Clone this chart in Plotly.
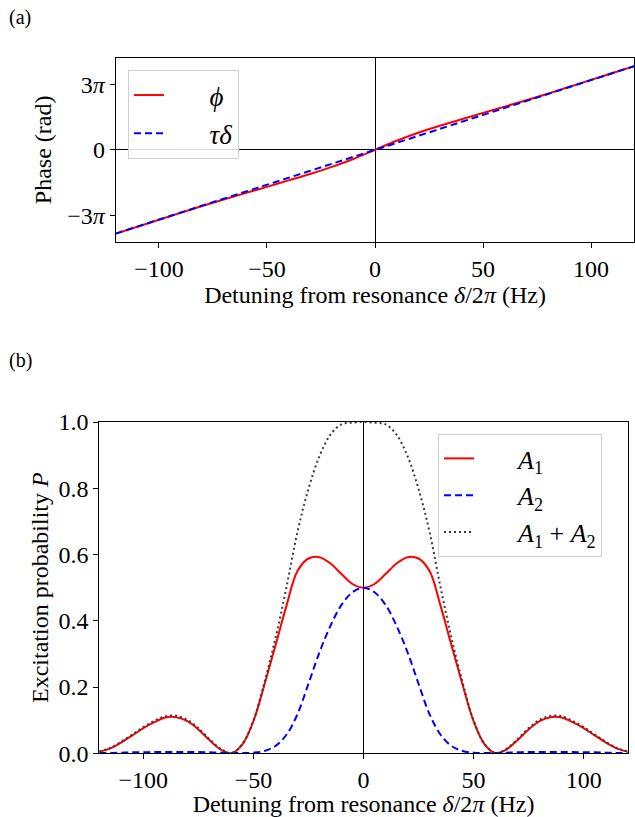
import plotly.graph_objects as go

# ---------------- data ----------------
# (a) phase vs detuning
phase_detuning = [-120, -110, -100, -90, -80, -70, -60, -50, -40, -30, -20, -10, 0,
                  10, 20, 30, 40, 50, 60, 70, 80, 90, 100, 110, 120]
phi = [-12.06, -11.07, -10.07, -9.08, -8.09, -7.14, -6.23, -5.33, -4.40, -3.47, -2.46, -1.31, 0.0,
       1.31, 2.46, 3.47, 4.40, 5.33, 6.23, 7.14, 8.09, 9.08, 10.07, 11.07, 12.06]
tau_delta = [-12.06, -11.06, -10.05, -9.05, -8.04, -7.04, -6.03, -5.03, -4.02, -3.02, -2.01, -1.01, 0.0,
             1.01, 2.01, 3.02, 4.02, 5.03, 6.03, 7.04, 8.04, 9.05, 10.05, 11.06, 12.06]
phase_tickvals = [-9.42478, 0.0, 9.42478]
phase_ticktext = ["\u22123<i>\u03c0</i>", "0", "3<i>\u03c0</i>"]

# (b) excitation probability vs detuning
prob_detuning = [-120, -115, -110, -105, -100, -95, -90, -85, -80, -75, -70, -65, -60,
                 -55, -50, -45, -40, -35, -30, -25, -20, -15, -10, -5, 0,
                 5, 10, 15, 20, 25, 30, 35, 40, 45, 50, 55, 60,
                 65, 70, 75, 80, 85, 90, 95, 100, 105, 110, 115, 120]
A1 = [0.005, 0.015, 0.033, 0.054, 0.076, 0.094, 0.108, 0.109, 0.097, 0.072, 0.040, 0.012, 0.000,
      0.027, 0.097, 0.207, 0.325, 0.445, 0.550, 0.588, 0.592, 0.573, 0.541, 0.511, 0.500,
      0.511, 0.541, 0.573, 0.592, 0.588, 0.550, 0.445, 0.325, 0.207, 0.097, 0.027, 0.000,
      0.012, 0.040, 0.072, 0.097, 0.109, 0.108, 0.094, 0.076, 0.054, 0.033, 0.015, 0.005]
A2 = [0.001, 0.001, 0.002, 0.003, 0.003, 0.004, 0.004, 0.004, 0.004, 0.004, 0.003, 0.002, 0.001,
      0.001, 0.002, 0.007, 0.022, 0.056, 0.118, 0.210, 0.305, 0.385, 0.448, 0.486, 0.500,
      0.486, 0.448, 0.385, 0.305, 0.210, 0.118, 0.056, 0.022, 0.007, 0.002, 0.001, 0.001,
      0.002, 0.003, 0.004, 0.004, 0.004, 0.004, 0.004, 0.003, 0.003, 0.002, 0.001, 0.001]
A_sum = [0.006, 0.016, 0.035, 0.057, 0.079, 0.098, 0.112, 0.113, 0.101, 0.076, 0.043, 0.014, 0.001,
         0.028, 0.099, 0.214, 0.347, 0.501, 0.668, 0.798, 0.897, 0.962, 0.993, 0.998, 1.000,
         0.998, 0.993, 0.962, 0.897, 0.798, 0.668, 0.501, 0.347, 0.214, 0.099, 0.028, 0.001,
         0.014, 0.043, 0.076, 0.101, 0.113, 0.112, 0.098, 0.079, 0.057, 0.035, 0.016, 0.006]
prob_tickvals = [0.0, 0.2, 0.4, 0.6, 0.8, 1.0]
prob_ticktext = ["0.0", "0.2", "0.4", "0.6", "0.8", "1.0"]
det_tickvals = [-100, -50, 0, 50, 100]
det_ticktext = ["\u2212100", "\u221250", "0", "50", "100"]

# ---------------- styling ----------------
W, H = 635, 817
FONT = "Liberation Serif, Times New Roman, serif"
FS_TICK = 24
FS_TITLE = 24
RED = "#ff0000"
BLUE = "#0000ff"
DOT = "#3a3a3a"
PAD = "\u2002\u2002\u2002"  # pushes legend text right, as the reference's longer line samples do

fig = go.Figure()

fig.add_trace(go.Scatter(x=phase_detuning, y=phi, mode="lines", name=PAD + "<i>\u03d5</i>",
                         line=dict(color=RED, width=2, shape="spline"),
                         xaxis="x", yaxis="y", legend="legend"))
fig.add_trace(go.Scatter(x=phase_detuning, y=tau_delta, mode="lines", name=PAD + "<i>\u03c4\u03b4</i>",
                         line=dict(color=BLUE, width=2, dash="7px,4px"),
                         xaxis="x", yaxis="y", legend="legend"))

fig.add_trace(go.Scatter(x=prob_detuning, y=A1, mode="lines", name=PAD + "<i>A</i><sub>1</sub>",
                         line=dict(color=RED, width=2, shape="spline", smoothing=1.0),
                         xaxis="x2", yaxis="y2", legend="legend2"))
fig.add_trace(go.Scatter(x=prob_detuning, y=A2, mode="lines", name=PAD + "<i>A</i><sub>2</sub>",
                         line=dict(color=BLUE, width=2, dash="7px,4px", shape="spline", smoothing=1.0),
                         xaxis="x2", yaxis="y2", legend="legend2"))
fig.add_trace(go.Scatter(x=prob_detuning, y=A_sum, mode="lines",
                         name=PAD + "<i>A</i><sub>1</sub> + <i>A</i><sub>2</sub>",
                         line=dict(color=DOT, width=2, dash="2px,3px", shape="spline", smoothing=1.0),
                         xaxis="x2", yaxis="y2", legend="legend2"))

axis_common = dict(showgrid=False, showline=True, linecolor="black", linewidth=1,
                   mirror=True, ticks="outside", ticklen=5, tickwidth=1, tickcolor="black",
                   automargin=False,
                   tickfont=dict(family=FONT, size=FS_TICK, color="black"))

xtitle = "Detuning from resonance <i>\u03b4</i>/2<i>\u03c0</i> (Hz)"

fig.update_layout(
    width=W, height=H,
    margin=dict(l=0, r=0, t=0, b=0, pad=0, autoexpand=False),
    paper_bgcolor="white", plot_bgcolor="white",
    font=dict(family=FONT, size=FS_TITLE, color="black"),
    xaxis=dict(domain=[115.7 / W, 634.3 / W], range=[-120, 120],
               tickvals=det_tickvals, ticktext=det_ticktext,
               zeroline=True, zerolinecolor="black", zerolinewidth=0.8,
               title=dict(text=xtitle, font=dict(family=FONT, size=FS_TITLE), standoff=3),
               anchor="y", **axis_common),
    yaxis=dict(domain=[1 - 242 / H, 1 - 57.7 / H], range=[-13.27, 13.27],
               tickvals=phase_tickvals, ticktext=phase_ticktext,
               zeroline=True, zerolinecolor="black", zerolinewidth=0.8,
               title=dict(text="Phase (rad)", font=dict(family=FONT, size=FS_TITLE), standoff=8),
               anchor="x", **axis_common),
    xaxis2=dict(domain=[99.3 / W, 627.7 / W], range=[-120, 120],
                tickvals=det_tickvals, ticktext=det_ticktext,
                zeroline=True, zerolinecolor="black", zerolinewidth=0.8,
                title=dict(text=xtitle, font=dict(family=FONT, size=FS_TITLE), standoff=5),
                anchor="y2", **axis_common),
    yaxis2=dict(domain=[1 - 753.3 / H, 1 - 422 / H], range=[0, 1],
                tickvals=prob_tickvals, ticktext=prob_ticktext, zeroline=False,
                title=dict(text="Excitation probability <i>P</i>", font=dict(family=FONT, size=FS_TITLE), standoff=3),
                anchor="x2", **axis_common),
    legend=dict(x=128 / W, y=1 - 70 / H, xanchor="left", yanchor="top",
                bgcolor="rgba(255,255,255,0.85)", bordercolor="#d0d0d0", borderwidth=1,
                font=dict(family=FONT, size=27), tracegroupgap=0),
    legend2=dict(x=438 / W, y=1 - 434 / H, xanchor="left", yanchor="top",
                 bgcolor="rgba(255,255,255,0.85)", bordercolor="#d0d0d0", borderwidth=1,
                 font=dict(family=FONT, size=26), tracegroupgap=0),
    annotations=[
        dict(text="(a)", x=7 / W, y=1 - 17 / H, xref="paper", yref="paper",
             xanchor="left", yanchor="middle", showarrow=False,
             font=dict(family=FONT, size=20, color="black")),
        dict(text="(b)", x=7 / W, y=1 - 360 / H, xref="paper", yref="paper",
             xanchor="left", yanchor="middle", showarrow=False,
             font=dict(family=FONT, size=20, color="black")),
    ],
)

fig.write_html(
    "out.html",
    config={"displayModeBar": False},
    post_script="document.body.style.margin='0px';document.body.style.padding='0px';"
                "document.documentElement.style.overflow='hidden';",
)
